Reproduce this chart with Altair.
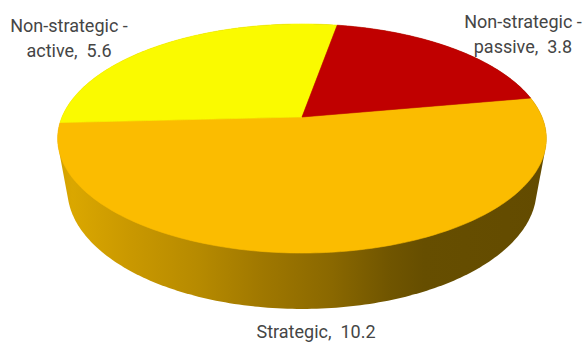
import numpy as np
import pandas as pd
import altair as alt

# Slice data
categories = ["Strategic", "Non-strategic - active", "Non-strategic - passive"]
values = [10.2, 5.6, 3.8]
slice_colors = ["#FBBC00", "#FAFA00", "#C00000"]

# Canvas and 3-D view settings (screen units)
W, H = 583, 343
CX, CY = 302.0, 117.0      # pie centre on the top face
RX, RY = 240.0, 110.5      # horizontal / vertical radius of the top face
PERSP = 0.1877             # perspective foreshortening front-to-back
DEPTH = 53.1               # pie thickness
SHRINK = 0.04              # bottom face recedes slightly
FIRST_ANGLE = 79.8         # first slice angle, clockwise from the back

# Label placement (centre of the first line of each text block)
LABEL_POS = [(316, 333), (69, 27), (523, 23)]


def project(phi_deg, level, r=1.0):
    """Screen position of a point on the pie rim (level 0 = top, 1 = bottom)."""
    phi = np.radians(phi_deg)
    px = r * np.sin(phi)
    py = r * np.cos(phi)
    w = 1 + PERSP * py + SHRINK * level
    return CX + RX * px / w, CY + (-RY * py + DEPTH * level) / w


def convex_hull(points):
    pts = sorted(set(points))

    def cross(o, a, b):
        return (a[0] - o[0]) * (b[1] - o[1]) - (a[1] - o[1]) * (b[0] - o[0])

    lower, upper = [], []
    for p in pts:
        while len(lower) >= 2 and cross(lower[-2], lower[-1], p) <= 0:
            lower.pop()
        lower.append(p)
    for p in reversed(pts):
        while len(upper) >= 2 and cross(upper[-2], upper[-1], p) <= 0:
            upper.pop()
        upper.append(p)
    return lower[:-1] + upper[:-1]


# Top face: one wedge per slice
total = sum(values)
top_rows = []
start = FIRST_ANGLE
for cat, v in zip(categories, values):
    span = 360.0 * v / total
    phis = np.linspace(start, start + span, int(np.ceil(span)) + 1)
    xs, ys = project(phis, 0)
    top_rows.append({"category": cat, "i": 0, "x": CX, "y": CY})
    for j, (px, py) in enumerate(zip(xs, ys)):
        top_rows.append({"category": cat, "i": j + 1, "x": float(px), "y": float(py)})
    start += span
top_df = pd.DataFrame(top_rows)

# Side wall: outline of top and bottom rims together
ring = np.arange(0.0, 360.0, 1.0)
tx, ty = project(ring, 0)
bx, by = project(ring, 1)
hull = convex_hull(list(zip(np.r_[tx, bx].round(3), np.r_[ty, by].round(3))))
wall_df = pd.DataFrame({"i": range(len(hull)),
                        "x": [p[0] for p in hull],
                        "y": [p[1] for p in hull]})

# Data labels: "name,  value", wrapped after the dash
label_text = []
for cat, v in zip(categories, values):
    if " - " in cat:
        head, tail = cat.split(" - ", 1)
        label_text.append(f"{head} -\n{tail},\u00a0 {v}")
    else:
        label_text.append(f"{cat},\u00a0 {v}")
label_df = pd.DataFrame({
    "category": categories,
    "text": label_text,
    "x": [p[0] for p in LABEL_POS],
    "y": [p[1] for p in LABEL_POS],
})

x_enc = alt.X("x:Q", scale=alt.Scale(domain=[0, W], nice=False, zero=False), axis=None)
y_enc = alt.Y("y:Q", scale=alt.Scale(domain=[H, 0], nice=False, zero=False), axis=None)
color_scale = alt.Scale(domain=categories, range=slice_colors)

wall_gradient = alt.LinearGradient(
    gradient="linear", x1=0, x2=1, y1=0, y2=0,
    stops=[
        alt.GradientStop(offset=0.0, color="#D2A000"),
        alt.GradientStop(offset=0.03, color="#DAA700"),
        alt.GradientStop(offset=0.15, color="#C99800"),
        alt.GradientStop(offset=0.29, color="#B68A00"),
        alt.GradientStop(offset=0.415, color="#A07800"),
        alt.GradientStop(offset=0.56, color="#8A6800"),
        alt.GradientStop(offset=0.68, color="#705500"),
        alt.GradientStop(offset=0.75, color="#664E00"),
        alt.GradientStop(offset=1.0, color="#634B00"),
    ],
)

wall = alt.Chart(wall_df).mark_line(
    interpolate="linear-closed", fill=wall_gradient, strokeOpacity=0
).encode(x=x_enc, y=y_enc, order="i:Q")

top = alt.Chart(top_df).mark_line(
    interpolate="linear-closed", strokeWidth=0.6
).encode(
    x=x_enc, y=y_enc, order="i:Q", detail="category:N",
    fill=alt.Fill("category:N", scale=color_scale, legend=None),
    stroke=alt.Stroke("category:N", scale=color_scale, legend=None),
)

labels = alt.Chart(label_df).mark_text(
    font="Roboto", fontSize=18, color="#454545", lineBreak="\n", lineHeight=25,
    align="center", baseline="middle",
).encode(x=x_enc, y=y_enc, text="text:N")

chart = alt.layer(wall, top, labels).properties(
    width=W, height=H, padding=0, autosize="none", background="white"
).configure_view(strokeWidth=0)

chart.save("out.html", embed_options={"renderer": "svg", "actions": False})
